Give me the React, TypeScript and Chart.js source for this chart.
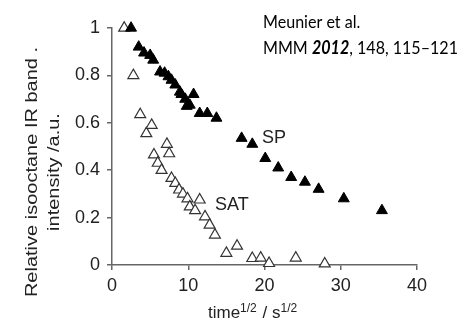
import React, { useEffect, useRef } from "react";
import { Chart, registerables } from "chart.js";
Chart.register(...registerables);

const spX = [2.5, 3.5, 4.2, 5.0, 5.4, 6.3, 6.9, 7.4, 7.8, 8.3, 8.9, 9.1, 9.6, 9.8, 10.2, 10.7, 11.5, 12.5, 13.7, 17.0, 18.4, 20.1, 21.8, 23.5, 25.3, 27.1, 30.4, 35.4];
const spY = [1.0, 0.92, 0.895, 0.885, 0.865, 0.815, 0.81, 0.795, 0.78, 0.76, 0.73, 0.72, 0.7, 0.67, 0.675, 0.72, 0.64, 0.64, 0.62, 0.535, 0.51, 0.45, 0.41, 0.37, 0.35, 0.32, 0.28, 0.23];

const satX = [1.6, 2.8, 3.7, 4.5, 5.2, 5.5, 6.0, 6.5, 7.2, 7.5, 7.8, 8.3, 8.8, 9.3, 9.9, 10.2, 10.9, 11.5, 12.2, 12.8, 13.5, 15.0, 16.4, 18.4, 19.5, 20.6, 24.1, 27.9];
const satY = [1.0, 0.8, 0.635, 0.555, 0.59, 0.465, 0.43, 0.4, 0.51, 0.47, 0.366, 0.345, 0.317, 0.3, 0.28, 0.246, 0.23, 0.275, 0.204, 0.169, 0.127, 0.05, 0.08, 0.028, 0.03, 0.007, 0.03, 0.005];

const xTicks = [0, 10, 20, 30, 40];
const yTicks = [0, 0.2, 0.4, 0.6, 0.8, 1];
const yTitleLines = ["Relative isooctane IR band .", "intensity /a.u."];
const xTitleParts = ["time", "1/2", " / s", "1/2"];
const citeLine1 = "Meunier et al.";
const citeLine2 = ["MMM ", "2012", ", 148, 115\u2013121"];
const seriesLabels = ["SP", "SAT"];

const FONT = "'Liberation Sans', Arial, sans-serif";

export default function App() {
  const ref = useRef<HTMLCanvasElement>(null);
  useEffect(() => {
    document.body.style.margin = "0";
    const canvas = ref.current!;
    const textPlugin = {
      id: "texts",
      afterDraw(chart: any) {
        const ctx = chart.ctx as CanvasRenderingContext2D;
        ctx.save();
        ctx.fillStyle = "#222";
        // y title (rotated, stretched along its length)
        const stretch = 1.25;
        ctx.font = `16px ${FONT}`;
        ctx.textAlign = "center";
        ctx.textBaseline = "middle";
        const cy = 172;
        [33, 55].forEach((cx, i) => {
          ctx.save();
          ctx.translate(cx, cy);
          ctx.rotate(-Math.PI / 2);
          ctx.scale(stretch, 1);
          ctx.fillText(yTitleLines[i], 0, 0);
          ctx.restore();
        });
        // x title with superscripts
        ctx.textAlign = "left";
        ctx.textBaseline = "alphabetic";
        let x = 208;
        const base = 318;
        xTitleParts.forEach((p, i) => {
          const sup = i % 2 === 1;
          ctx.font = sup ? `12px ${FONT}` : `17px ${FONT}`;
          ctx.fillText(p, x, sup ? base - 6 : base);
          x += ctx.measureText(p).width + (sup ? 1 : 0);
        });
        // series labels
        ctx.font = `18px ${FONT}`;
        ctx.textBaseline = "middle";
        ctx.fillText(seriesLabels[0], 262, 138);
        ctx.fillText(seriesLabels[1], 215, 205);
        // citation, 18px, squeezed horizontally so line 2 spans ~195px
        ctx.fillStyle = "#000";
        ctx.textBaseline = "alphabetic";
        const cf = "Lato, 'Open Sans', sans-serif";
        const size = 18;
        const fontFor = (i: number) => (i === 1 ? `italic bold ${size}px ${cf}` : `${size}px ${cf}`);
        let w = 0;
        citeLine2.forEach((p, i) => {
          ctx.font = fontFor(i);
          w += ctx.measureText(p).width;
        });
        const sx = 195 / w;
        ctx.save();
        ctx.translate(263, 0);
        ctx.scale(sx, 1);
        ctx.font = `${size}px ${cf}`;
        ctx.fillText(citeLine1, 0, 28);
        let cx2 = 0;
        citeLine2.forEach((p, i) => {
          ctx.font = fontFor(i);
          ctx.fillText(p, cx2, 54);
          cx2 += ctx.measureText(p).width;
        });
        ctx.restore();
        ctx.restore();
      },
    };
    const chart = new Chart(canvas, {
      type: "scatter",
      data: {
        datasets: [
          {
            label: seriesLabels[0],
            data: spX.map((v, i) => ({ x: v, y: spY[i] })),
            pointStyle: "triangle",
            pointRadius: 6.3,
            backgroundColor: "#000",
            borderColor: "#000",
            borderWidth: 1,
            clip: false,
          },
          {
            label: seriesLabels[1],
            data: satX.map((v, i) => ({ x: v, y: satY[i] })),
            pointStyle: "triangle",
            pointRadius: 6.3,
            backgroundColor: "#fff",
            borderColor: "#333",
            borderWidth: 1.2,
            clip: false,
          },
        ],
      },
      options: {
        responsive: false,
        animation: false,
        layout: { padding: { top: 28, right: 45, left: 0, bottom: 0 } },
        plugins: { legend: { display: false }, tooltip: { enabled: false } },
        scales: {
          x: {
            type: "linear",
            min: 0,
            max: 40,
            afterFit: (s: any) => {
              s.height = 65;
            },
            afterBuildTicks: (s: any) => {
              s.ticks = xTicks.map((v) => ({ value: v }));
            },
            ticks: { font: { size: 18, family: FONT }, color: "#222", padding: 5, maxRotation: 0, callback: (v: any) => String(v) },
            grid: { drawOnChartArea: false, drawTicks: true, tickLength: 5, color: "#666", lineWidth: 1.5 },
            border: { color: "#666", width: 1.5 },
          },
          y: {
            type: "linear",
            min: 0,
            max: 1,
            afterFit: (s: any) => {
              s.width = 112;
            },
            afterBuildTicks: (s: any) => {
              s.ticks = yTicks.map((v) => ({ value: v }));
            },
            ticks: { font: { size: 18, family: FONT }, color: "#222", padding: 7, callback: (v: any) => String(v) },
            grid: { drawOnChartArea: false, drawTicks: true, tickLength: 5, color: "#666", lineWidth: 1.5 },
            border: { color: "#666", width: 1.5 },
          },
        },
      },
      plugins: [textPlugin],
    } as any);
    return () => chart.destroy();
  }, []);
  return (
    <div style={{ position: "absolute", left: 0, top: 0, width: 462, height: 330, background: "#fff" }}>
      <canvas ref={ref} width={462} height={330} style={{ display: "block" }} />
    </div>
  );
}
